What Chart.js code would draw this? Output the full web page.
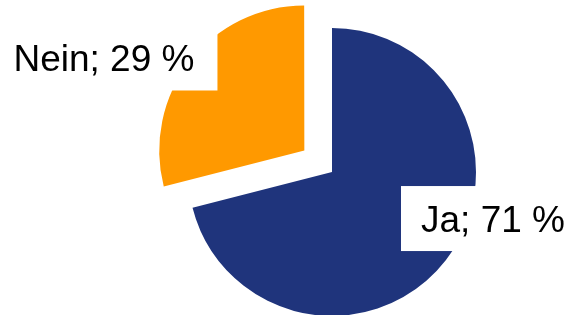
<!DOCTYPE html>
<html>
<head>
<meta charset="utf-8">
<script src="https://cdn.jsdelivr.net/npm/chart.js@4/dist/chart.umd.min.js"></script>
<style>
  html, body { margin: 0; padding: 0; background: #fff; }
  #wrap { width: 570px; height: 315px; position: relative; }
</style>
</head>
<body>
<div id="wrap"><canvas id="c" width="570" height="315"></canvas></div>
<script>
const categories = ['Ja', 'Nein'];
const values = [71, 29];
const colors = ['#1f347c', '#ff9900'];
// Chart.js v4 arc element moves a slice by offset / 4 px
const explodePx = [0, 35];
// label text anchor (left x of text, baseline y) relative to slice centre, in units of radius
const labelAnchors = [[0.618, 0.417], [-2.02, -0.549]];

const labelPlugin = {
  id: 'sliceLabels',
  afterDatasetsDraw(chart) {
    const ctx = chart.ctx;
    const meta = chart.getDatasetMeta(0);
    ctx.save();
    ctx.font = '37px "Liberation Sans", Arial, sans-serif';
    ctx.textBaseline = 'alphabetic';
    ctx.textAlign = 'left';
    meta.data.forEach((arc, i) => {
      const p = arc.getProps(['x', 'y', 'outerRadius', 'startAngle', 'endAngle'], true);
      const mid = (p.startAngle + p.endAngle) / 2;
      const off = explodePx[i];
      const cx = p.x + Math.cos(mid) * off;
      const cy = p.y + Math.sin(mid) * off;
      const text = categories[i] + '; ' + values[i] + ' %';
      const tx = cx + labelAnchors[i][0] * p.outerRadius;
      const ty = cy + labelAnchors[i][1] * p.outerRadius;
      const w = ctx.measureText(text).width;
      ctx.fillStyle = '#ffffff';
      ctx.fillRect(tx - 20, ty - 46, w + 43, 65);
      ctx.fillStyle = '#000000';
      ctx.fillText(text, tx, ty);
    });
    ctx.restore();
  }
};

new Chart(document.getElementById('c'), {
  type: 'pie',
  data: {
    labels: categories,
    datasets: [{
      data: values,
      backgroundColor: colors,
      borderWidth: 0,
      offset: explodePx.map(v => v * 4),
      hoverOffset: 0,
      clip: false
    }]
  },
  options: {
    responsive: false,
    animation: false,
    radius: 144,
    layout: { padding: { left: 94, top: 29, right: 0, bottom: 0 } },
    plugins: {
      legend: { display: false },
      tooltip: { enabled: false }
    }
  },
  plugins: [labelPlugin]
});
</script>
</body>
</html>
